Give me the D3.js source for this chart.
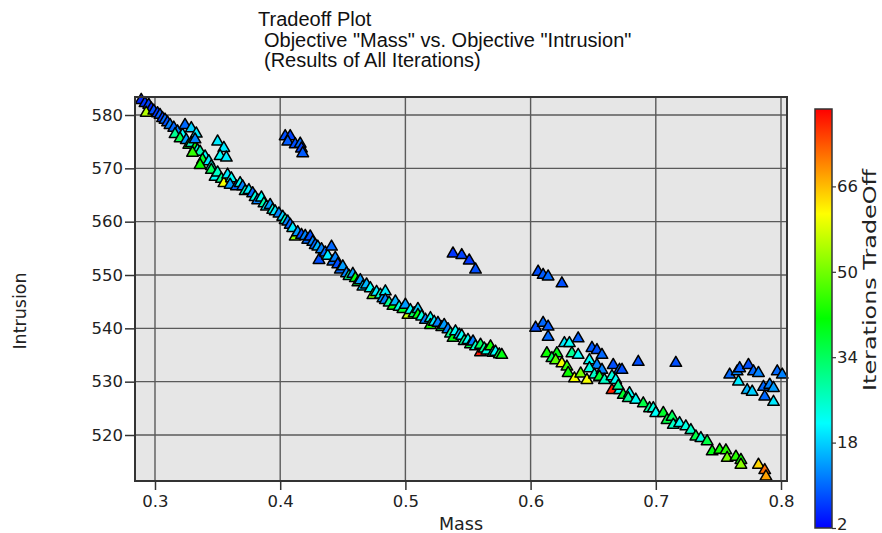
<!DOCTYPE html>
<html><head><meta charset="utf-8">
<script src="https://cdn.jsdelivr.net/npm/d3@7"></script>
<style>body{margin:0;background:#fff;}svg{display:block;}</style>
</head><body><svg id="c" width="882" height="533"></svg>
<script>
// ---- data ----
const titleLines = ["Tradeoff Plot", "Objective \"Mass\" vs. Objective \"Intrusion\"", "(Results of All Iterations)"];
const xLabel = "Mass", yLabel = "Intrusion", cLabel = "Iterations TradeOff";
const xTicks = [0.3, 0.4, 0.5, 0.6, 0.7, 0.8];
const yTicks = [520, 530, 540, 550, 560, 570, 580];
const cTicks = [2, 18, 34, 50, 66];
const iterRange = [2, 80.5];

// [mass, intrusion, iteration]
const frontUpper = [
[0.289,582.8,5],[0.292,582.2,6],[0.295,581.9,7],[0.297,581.2,5],[0.293,580.4,55],[0.299,580.8,8],[0.302,580.3,6],
[0.304,580.0,9],[0.306,579.4,7],[0.308,579.1,10],[0.310,578.6,8],[0.312,578.1,12],[0.315,577.6,10],[0.318,576.9,12],
[0.316,576.4,30],[0.322,576.3,22],[0.320,575.6,35],[0.325,575.3,14],[0.327,574.4,40],[0.329,574.7,26],[0.332,573.8,42],
[0.334,573.4,24],[0.336,573.1,28],[0.330,572.9,45],[0.340,572.2,22],[0.338,571.6,38],[0.343,571.3,20],[0.336,570.6,42],
[0.345,570.4,24],[0.345,569.7,34],[0.348,568.4,22],[0.350,569.2,26],[0.353,568.0,30],[0.355,567.2,60],[0.358,568.8,20],
[0.361,568.1,22],[0.360,566.9,14],[0.365,566.6,10],[0.368,567.2,22],[0.370,566.6,12],[0.372,565.7,26],[0.375,565.9,20],
[0.378,565.3,10],[0.380,564.6,24],[0.382,564.0,12],[0.385,564.5,22],[0.387,563.4,28],[0.389,562.8,20],[0.392,563.1,14],
[0.394,562.2,24],[0.396,561.9,20],[0.399,561.5,12],[0.402,560.9,18],[0.404,560.3,26],[0.406,560.0,12],[0.408,559.4,10],
[0.410,558.8,20],[0.412,557.2,52],[0.414,558.0,14],[0.417,557.5,8],[0.420,557.3,12],[0.422,556.6,10],[0.424,557.2,8],
[0.426,556.2,12],[0.428,555.6,10],[0.430,555.3,16],[0.431,552.8,8],[0.433,554.8,12],[0.436,554.2,10],[0.438,553.6,20],
[0.441,555.3,10],[0.442,552.5,10],[0.444,553.2,12],[0.446,552.0,8],[0.448,551.0,10],[0.450,551.6,14],[0.453,550.3,12],
[0.455,549.8,30],[0.458,550.2,14],[0.460,549.4,40],[0.462,548.6,36],[0.464,549.0,14],[0.466,547.8,18],[0.469,548.2,16],
[0.472,547.5,22],[0.474,546.2,50],[0.477,546.8,20],[0.480,546.3,26],[0.482,545.6,14],[0.484,546.9,20],[0.484,545.3,12],
[0.487,544.8,30],[0.490,544.2,40],[0.492,545.0,16],[0.495,544.0,24],[0.498,543.6,38],[0.500,544.4,14],[0.502,542.5,56],
[0.504,543.4,22],[0.507,542.8,34],[0.510,543.6,18],[0.510,542.5,40],[0.513,542.2,24],[0.516,541.6,12],[0.520,541.9,22],
[0.520,540.6,42],[0.523,541.2,20],[0.526,541.0,12],[0.529,540.2,36],[0.531,540.6,14],[0.534,539.8,12],[0.536,539.0,30],
[0.538,538.2,40],[0.540,539.4,22],[0.543,538.8,16],[0.545,538.6,22],[0.547,537.6,30],[0.550,537.8,22],[0.552,537.0,36],
[0.554,537.5,12],[0.556,536.6,26],[0.560,535.5,79],[0.560,536.9,34],[0.563,536.2,30],[0.565,535.8,24],[0.568,536.6,42],
[0.570,535.4,30],[0.572,535.6,22],[0.575,535.1,36],[0.577,535.0,40]
];
const strayUpper = [
[0.324,578.1,10],[0.329,577.5,18],[0.333,576.5,20],[0.332,575.4,12],[0.350,575.0,20],[0.355,573.8,20],[0.352,572.3,22],[0.357,572.0,20]
];
const clusterA = [[0.404,576.0,8],[0.408,576.0,7],[0.406,575.0,9],[0.412,574.5,8],[0.416,574.6,10],[0.417,573.7,7],[0.418,572.8,9]];
const clusterB = [[0.538,554.0,6],[0.545,553.7,7],[0.551,552.7,6],[0.556,551.0,8]];
const clusterC = [[0.606,550.6,8],[0.610,550.0,9],[0.614,549.7,10],[0.625,548.4,8]];
const frontLower = [
[0.604,540.1,8],[0.610,541.0,10],[0.614,540.3,9],[0.614,538.4,10],[0.627,537.2,20],[0.631,537.2,22],[0.638,538.1,9],
[0.613,535.3,42],[0.621,535.3,40],[0.633,535.3,30],[0.638,535.0,22],[0.617,534.4,35],[0.620,534.0,48],[0.625,533.4,60],
[0.629,532.8,45],[0.630,531.6,42],[0.635,530.6,60],[0.640,531.5,50],[0.645,530.3,60],
[0.649,536.3,9],[0.653,535.9,8],[0.657,535.0,10],[0.647,534.0,22],[0.653,533.1,12],[0.647,532.5,24],[0.651,531.3,26],
[0.657,532.2,12],[0.655,530.9,38],[0.659,530.3,26],[0.666,533.1,8],[0.671,532.2,10],[0.673,532.2,8],
[0.665,531.0,24],[0.668,530.3,22],[0.665,528.4,78],[0.671,528.4,22],[0.670,529.2,30],[0.674,527.5,38],[0.679,527.8,22],
[0.678,526.9,30],[0.684,526.6,22],[0.690,525.9,36],[0.695,525.0,30],[0.698,525.0,24],[0.700,524.1,22],[0.706,524.1,38],
[0.709,522.8,36],[0.713,523.4,34],[0.714,521.9,26],[0.719,522.2,22],[0.724,521.6,24],[0.728,520.9,26],[0.732,519.7,36],
[0.736,519.4,24],[0.741,518.8,36],[0.745,516.9,40],[0.751,517.2,42],[0.756,517.1,44],[0.757,515.7,50],[0.764,515.9,44],
[0.768,515.3,42],[0.768,514.4,52],[0.782,514.4,64],[0.787,513.4,72],[0.788,512.2,68]
];
const strayLower = [[0.686,533.7,8],[0.716,533.5,8]];
const clusterD = [
[0.759,531.3,10],[0.765,531.9,12],[0.767,532.5,9],[0.774,533.1,8],[0.778,531.9,10],[0.782,531.6,12],[0.766,530.0,20],
[0.773,528.4,16],[0.777,528.1,18],[0.786,529.0,10],[0.791,529.4,12],[0.794,528.8,14],[0.787,527.2,10],[0.794,526.2,20],
[0.797,531.9,10],[0.801,531.3,12]
];
const points = [].concat(frontUpper, strayUpper, clusterA, clusterB, clusterC, frontLower, strayLower, clusterD);

// ---- layout ----
const svg = d3.select("#c");
const P = {l:135, r:787, t:97, b:481};
const x = d3.scaleLinear().domain([0.28403, 0.80479]).range([P.l, P.r]);
const y = d3.scaleLinear().domain([511.375, 583.375]).range([P.b, P.t]);
const hue = d3.scaleLinear().domain(iterRange).range([240, 0]);
const color = v => d3.hsl(hue(v), 1, 0.5).toString();
const FONT = "'DejaVu Sans', Verdana, sans-serif";

// title
svg.append("g").selectAll("text").data(titleLines).join("text")
  .attr("x", (d,i) => i === 0 ? 258 : 264)
  .attr("y", (d,i) => [26, 47, 67][i])
  .attr("font-family", "'Liberation Sans', Arial, sans-serif")
  .attr("font-size", 20).attr("fill", "#111").text(d => d);

// plot background
svg.append("rect").attr("x", P.l).attr("y", P.t).attr("width", P.r-P.l).attr("height", P.b-P.t).attr("fill", "#e6e6e6");

// gridlines
const grid = svg.append("g").attr("stroke", "#5a5a5a").attr("stroke-width", 1.4);
grid.selectAll(".gx").data(xTicks).join("line")
  .attr("x1", d => x(d)).attr("x2", d => x(d)).attr("y1", P.t).attr("y2", P.b);
grid.selectAll(".gy").data(yTicks).join("line")
  .attr("y1", d => y(d)).attr("y2", d => y(d)).attr("x1", P.l).attr("x2", P.r);

// points
const sym = d3.symbol().type(d3.symbolTriangle).size(58);
svg.append("g").selectAll("path").data(points).join("path")
  .attr("d", sym)
  .attr("transform", d => `translate(${x(d[0])},${y(d[1])})`)
  .attr("fill", d => color(d[2]))
  .attr("stroke", "#000").attr("stroke-width", 1.5).attr("stroke-linejoin", "round");

// frame
svg.append("rect").attr("x", P.l).attr("y", P.t).attr("width", P.r-P.l).attr("height", P.b-P.t)
  .attr("fill", "none").attr("stroke", "#333").attr("stroke-width", 2);

// axes
const xAxis = svg.append("g").attr("transform", `translate(0,${P.b})`)
  .call(d3.axisBottom(x).tickValues(xTicks).tickFormat(d3.format(".1f")).tickSize(9).tickPadding(5));
const yAxis = svg.append("g").attr("transform", `translate(${P.l},0)`)
  .call(d3.axisLeft(y).tickValues(yTicks).tickFormat(d3.format("d")).tickSize(10).tickPadding(2));
[xAxis, yAxis].forEach(a => {
  a.select(".domain").remove();
  a.selectAll(".tick line").attr("stroke", "#333").attr("stroke-width", 1.5);
  a.selectAll(".tick text").attr("font-family", FONT).attr("font-size", 16.5).attr("fill", "#222");
});

svg.append("text").attr("x", (P.l+P.r)/2).attr("y", 530).attr("text-anchor", "middle")
  .attr("font-family", FONT).attr("font-size", 17.5).attr("fill", "#222").text(xLabel);
svg.append("text").attr("transform", "translate(26,311) rotate(-90)").attr("text-anchor", "middle")
  .attr("font-family", FONT).attr("font-size", 17.5).attr("fill", "#222").text(yLabel);

// colorbar
const CB = {x:815, w:17, top:109, bot:528};
const cy = d3.scaleLinear().domain(iterRange).range([CB.bot, CB.top]);
const defs = svg.append("defs");
const grad = defs.append("linearGradient").attr("id", "cbg").attr("x1", 0).attr("y1", 1).attr("x2", 0).attr("y2", 0);
grad.selectAll("stop").data(d3.range(0, 1.0001, 0.05)).join("stop")
  .attr("offset", d => d)
  .attr("stop-color", d => color(iterRange[0] + d*(iterRange[1]-iterRange[0])));
svg.append("rect").attr("x", CB.x).attr("y", CB.top).attr("width", CB.w).attr("height", CB.bot-CB.top)
  .attr("fill", "url(#cbg)").attr("stroke", "#333").attr("stroke-width", 1.5);
const cAxis = svg.append("g").attr("transform", `translate(${CB.x+CB.w},0)`)
  .call(d3.axisRight(cy).tickValues(cTicks).tickFormat(d3.format("d")).tickSize(4).tickPadding(1));
cAxis.select(".domain").remove();
cAxis.selectAll(".tick line").attr("stroke", "#333").attr("stroke-width", 1.2);
cAxis.selectAll(".tick text").attr("font-family", FONT).attr("font-size", 16.5).attr("fill", "#222")
  .attr("dy", d => d === cTicks[0] ? "0.1em" : "0.32em");
svg.append("text").attr("transform", "translate(876,280) rotate(-90)").attr("text-anchor", "middle")
  .attr("font-family", FONT).attr("font-size", 17).attr("fill", "#222")
  .attr("textLength", 222).attr("lengthAdjust", "spacingAndGlyphs").text(cLabel);
</script></body></html>
